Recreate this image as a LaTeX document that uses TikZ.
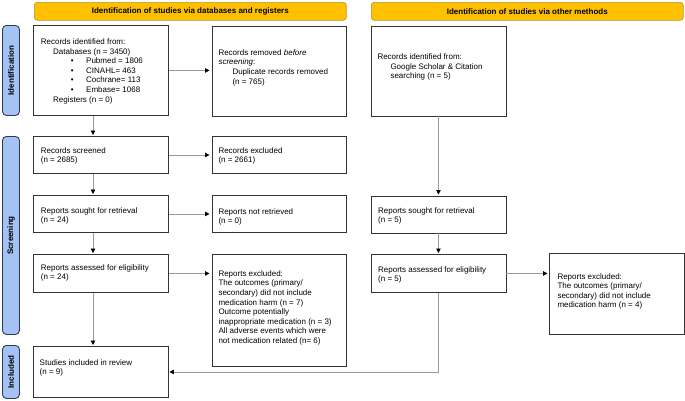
\documentclass[tikz,border=0pt]{standalone}
\usepackage{fontspec}
\setmainfont{Liberation Sans}
\usetikzlibrary{arrows.meta}
\definecolor{hdrfill}{HTML}{FFC000}
\definecolor{hdrline}{HTML}{B8942A}
\definecolor{sidefill}{HTML}{A4C2F4}
\definecolor{sideline}{HTML}{2E3B4E}
\definecolor{conngray}{HTML}{999999}
\definecolor{boxline}{HTML}{333333}
\begin{document}
\begin{tikzpicture}[x=1pt,y=-1pt,
  box/.style={draw=boxline, line width=0.9pt, anchor=north west, inner sep=0, fill=white},
  txt/.style={anchor=north west, inner sep=0, align=left, font=\fontsize{8}{9.6}\selectfont},
  hdrbox/.style={draw=hdrline, fill=hdrfill, rounded corners=3pt, line width=0.6pt, anchor=north west, inner sep=0, minimum width=312pt, minimum height=18pt, font=\bfseries\fontsize{8}{9.6}\selectfont},
  sidebox/.style={draw=sideline, fill=sidefill, rounded corners=4pt, line width=0.9pt, anchor=north west, inner sep=0, minimum width=17pt},
  sidetxt/.style={rotate=90, font=\bfseries\fontsize{8}{9.6}\selectfont, inner sep=0},
  arrowline/.style={draw=conngray, line width=0.8pt, -{Triangle[length=4.5pt,width=4.5pt,color=black]}},
]
\useasboundingbox (0,0) rectangle (685,400);

% headers
\node[hdrbox] (hdrL) at (34,2) {Identification of studies via databases and registers};
\node[hdrbox] (hdrR) at (371,2) {Identification of studies via other methods};

% side labels
\node[sidebox, minimum height=90pt] (sideId) at (2,25) {};
\node[sidetxt] (sideIdT) at (sideId.center) {Identification};
\node[sidebox, minimum height=198pt] (sideSc) at (2,136) {};
\node[sidetxt] (sideScT) at (sideSc.center) {Screening};
\node[sidebox, minimum height=53pt] (sideIn) at (2,345) {};
\node[sidetxt] (sideInT) at (sideIn.center) {Included};

% left column boxes
\node[box, minimum width=135pt, minimum height=90pt] (id) at (33,25) {};
\node[txt] (idT) at (40.7,38.5) {Records identified from:\\
\hspace*{12.3pt}Databases (n = 3450)\\
\hspace*{30pt}\textbullet\hspace*{12.5pt}Pubmed = 1806\\
\hspace*{30pt}\textbullet\hspace*{12.5pt}CINAHL= 463\\
\hspace*{30pt}\textbullet\hspace*{12.5pt}Cochrane= 113\\
\hspace*{30pt}\textbullet\hspace*{12.5pt}Embase= 1068\\
\hspace*{12.3pt}Registers (n = 0)};

\node[box, minimum width=134pt, minimum height=90pt] (rem) at (212,25.5) {};
\node[txt] (remT) at (218.3,49.3) {Records removed \textit{before}\\
\textit{screening}:\\
\hspace*{14pt}Duplicate records removed\\
\hspace*{14pt}(n = 765)};

\node[box, minimum width=135pt, minimum height=37pt] (scr) at (33,136) {};
\node[txt] (scrT) at (40.7,147) {Records screened\\(n = 2685)};

\node[box, minimum width=134pt, minimum height=37pt] (exc) at (212,136) {};
\node[txt] (excT) at (218.3,147) {Records excluded\\(n = 2661)};

\node[box, minimum width=135pt, minimum height=37pt] (sgt) at (33,195) {};
\node[txt] (sgtT) at (40.7,207) {Reports sought for retrieval\\(n = 24)};

\node[box, minimum width=134pt, minimum height=37pt] (nrt) at (212,195) {};
\node[txt] (nrtT) at (218.3,208) {Reports not retrieved\\(n = 0)};

\node[box, minimum width=135pt, minimum height=38pt] (ass) at (33,254) {};
\node[txt] (assT) at (40.7,264) {Reports assessed for eligibility\\(n = 24)};

\node[box, minimum width=134pt, minimum height=112pt] (rex) at (212,254) {};
\node[txt] (rexT) at (218.3,270.3) {Reports excluded:\\
The outcomes (primary/\\
secondary) did not include\\
medication harm (n = 7)\\
Outcome potentially\\
inappropriate medication (n = 3)\\
All adverse events which were\\
not medication related (n= 6)};

\node[box, minimum width=135pt, minimum height=51pt] (inc) at (33,346) {};
\node[txt] (incT) at (39.5,359.3) {Studies included in review\\(n = 9)};

% right column boxes
\node[box, minimum width=135pt, minimum height=90pt] (oid) at (370.5,25.5) {};
\node[txt] (oidT) at (377.3,53.7) {Records identified from:\\
\hspace*{13pt}Google Scholar \& Citation\\
\hspace*{13pt}searching (n = 5)};

\node[box, minimum width=135pt, minimum height=37pt] (osg) at (370.5,195.5) {};
\node[txt] (osgT) at (378,207) {Reports sought for retrieval\\(n = 5)};

\node[box, minimum width=135pt, minimum height=38pt] (oas) at (370.5,254) {};
\node[txt] (oasT) at (378,266.3) {Reports assessed for eligibility\\(n = 5)};

\node[box, minimum width=134.5pt, minimum height=81pt] (oex) at (549,253) {};
\node[txt] (oexT) at (557.3,273) {Reports excluded:\\
The outcomes (primary/\\
secondary) did not include\\
medication harm (n = 4)};

% connectors
\coordinate (colL) at (93,0);
\draw[arrowline, shorten >=2.5pt] (id.east) -- (rem.west |- id.east);
\draw[arrowline, shorten >=2.5pt] (scr.east) -- (exc.west |- scr.east);
\draw[arrowline, shorten >=2.5pt] (sgt.east) -- (nrt.west |- sgt.east);
\draw[arrowline, shorten >=2.5pt] (ass.east) -- (rex.west |- ass.east);
\draw[arrowline, shorten >=1pt] (colL |- id.south) -- (colL |- scr.north);
\draw[arrowline, shorten >=1pt] (colL |- scr.south) -- (colL |- sgt.north);
\draw[arrowline, shorten >=1pt] (colL |- sgt.south) -- (colL |- ass.north);
\draw[arrowline, shorten >=1pt] (colL |- ass.south) -- (colL |- inc.north);

\draw[arrowline, shorten >=1pt] (oid.south) -- (osg.north);
\draw[arrowline, shorten >=1pt] (osg.south) -- (oas.north);
\draw[arrowline, shorten >=1.5pt] (oas.east) -- (oex.west |- oas.east);
\draw[arrowline, shorten >=0.5pt] (oas.south) |- (inc.east);
\end{tikzpicture}
\end{document}
